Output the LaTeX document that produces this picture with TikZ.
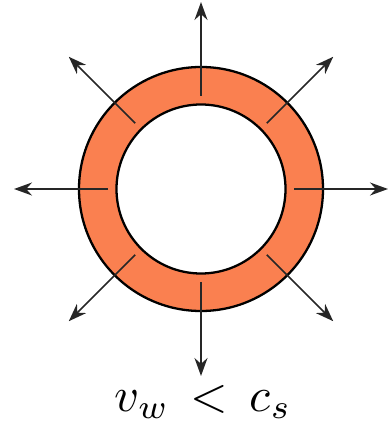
\documentclass[tikz,border=0pt]{standalone}
\usetikzlibrary{arrows.meta}
\definecolor{ringorange}{RGB}{250,128,80}
\tikzset{flux/.style={-{Stealth[length=0.36cm,width=0.26cm]}, line width=0.85pt, black!85}}

\begin{document}
\begin{tikzpicture}[scale=1]
	\useasboundingbox (-4.02,-4.92) rectangle (3.72,3.78);
	% the ring
	\draw[line width=1.3pt, fill=ringorange, even odd rule] (0,0) circle (2.44) (0,0) circle (1.69);
	\foreach \a in {0,45,...,315}
		\draw[flux] (\a:1.86) -- (\a:3.74);
	\node[scale=2.75] (label) at (0.04,-4.26) {$v_w \,<\, c_s$};
\end{tikzpicture}
\end{document}
